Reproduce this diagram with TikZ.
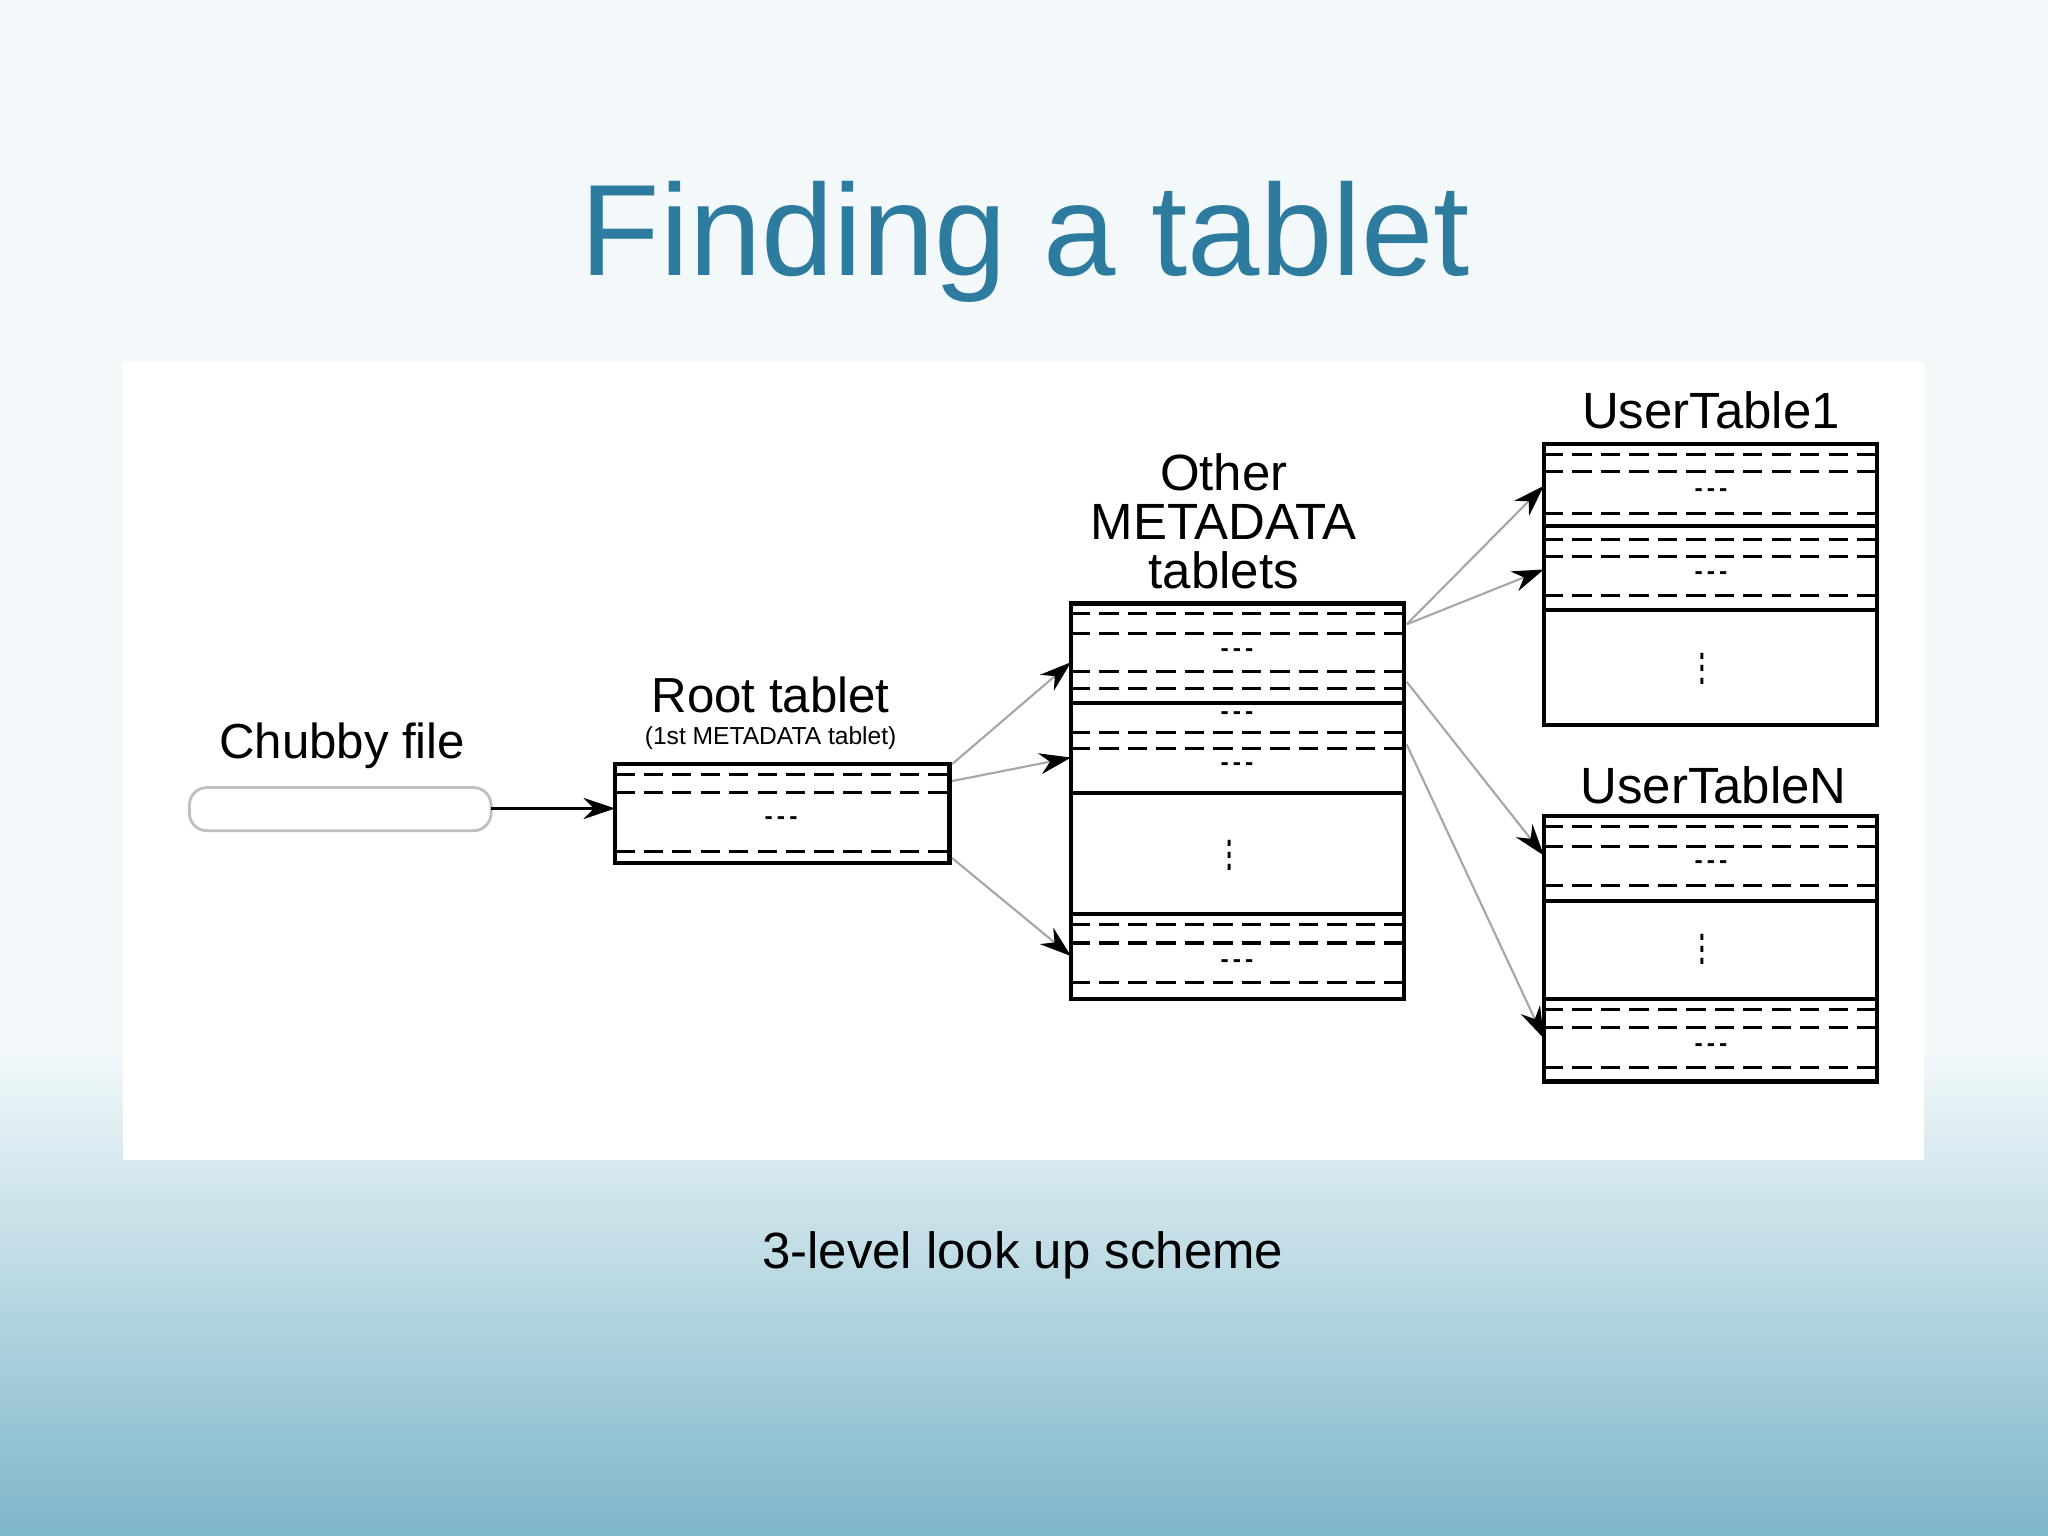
\documentclass[tikz,border=0pt]{standalone}
\usepackage{fontspec}
\setmainfont{Liberation Sans}
\usetikzlibrary{arrows.meta}
\definecolor{titleblue}{HTML}{2E7BA0}
\definecolor{tealc}{HTML}{7DB6C9}
\definecolor{pale}{HTML}{F3F9FB}
\tikzset{
  tbl/.style={draw=black,line width=1.2pt},
  dln/.style={draw=black,dash pattern=on 5.5pt off 2.6pt,line width=0.9pt},
  sln/.style={draw=black,line width=1.1pt},
  lk/.style={draw=gray!70,line width=0.6pt,-{Stealth[length=9pt,width=6pt,black]}},
  lbl/.style={font=\fontsize{14}{15}\selectfont,align=center,inner sep=0pt},
  dts/.style={font=\fontsize{7}{7}\selectfont\bfseries,inner sep=0pt},
}
\newcommand{\myDl}[3]{\draw[dln] (#1,#3) -- (#2,#3);}
\newcommand{\mySl}[3]{\draw[sln] (#1,#3) -- (#2,#3);}
\newcommand{\myHd}[2]{\node[dts] at (#1,#2) {-\,-\,-};}
\newcommand{\myVd}[2]{\node[dts,rotate=90] at (#1,#2) {-\,-\,-};}
\begin{document}
\begin{tikzpicture}[x=0.013061cm,y=-0.013061cm]
\useasboundingbox (0,0) rectangle (1568,1176);
\fill[pale] (0,0) rectangle (1568,800);
\shade[top color=pale,bottom color=tealc] (0,800) rectangle (1568,1176);
\fill[white] (94,277) rectangle (1473,888);
\node[text=titleblue,font=\fontsize{37}{40}\selectfont] (title) at (785,185) {Finding a tablet};
\node[font=\fontsize{14.5}{17}\selectfont] (cap) at (783,961) {3-level look up scheme};
% chubby
\draw[gray!50,line width=0.8pt,rounded corners=5pt] (145,603) rectangle (376,636);
\node[lbl] (chl) at (262,571) {Chubby file};
\coordinate (chub) at (376,619);
% root
\draw[tbl] (471,585) rectangle (727,661);
\coordinate (root) at (471,619);
\myDl{471}{727}{593}\myDl{471}{727}{607}\myHd{598}{628}\myDl{471}{727}{652}
\node[lbl] (rl) at (590,532) {Root tablet};
\node[lbl,font=\fontsize{7}{8}\selectfont] (rl2) at (590,565) {(1st METADATA tablet)};
\draw[black,line width=1pt,-{Stealth[length=9pt,width=6pt]}] (chub) -- (root);
% other metadata
\draw[tbl] (820,462) rectangle (1075,765);
\myDl{820}{1075}{470}\myDl{820}{1075}{485}\myHd{947}{500}\myDl{820}{1075}{514}\myDl{820}{1075}{527}
\mySl{820}{1075}{538}\myHd{947}{548}\myDl{820}{1075}{561}\myDl{820}{1075}{573}\myHd{947}{587}
\mySl{820}{1075}{607}\myVd{943}{655}\mySl{820}{1075}{700}
\myDl{820}{1075}{708}\myDl{820}{1075}{722}\myHd{947}{738}\myDl{820}{1075}{752}
\node[lbl,font=\fontsize{14.5}{14}\selectfont] (ol) at (937,399) {Other\\METADATA\\tablets};
% user table 1
\draw[tbl] (1182,340) rectangle (1437,555);
\myDl{1182}{1437}{348}\myDl{1182}{1437}{361}\myHd{1310}{377}\myDl{1182}{1437}{393}\mySl{1182}{1437}{403}
\myDl{1182}{1437}{413}\myDl{1182}{1437}{426}\myHd{1310}{441}\myDl{1182}{1437}{456}\mySl{1182}{1437}{467}
\myVd{1305}{512}
\node[lbl,font=\fontsize{14.5}{16}\selectfont] (u1) at (1310,314) {UserTable1};
% user table N
\draw[tbl] (1182,625) rectangle (1437,828);
\myDl{1182}{1437}{633}\myDl{1182}{1437}{648}\myHd{1310}{662}\myDl{1182}{1437}{678}\mySl{1182}{1437}{690}
\myVd{1305}{727}\mySl{1182}{1437}{765}
\myDl{1182}{1437}{773}\myDl{1182}{1437}{787}\myHd{1310}{802}\myDl{1182}{1437}{817}
\node[lbl,font=\fontsize{14.5}{16}\selectfont] (un) at (1312,601) {UserTableN};
% links
\coordinate (r1) at (729,585); \coordinate (r2) at (729,598); \coordinate (r3) at (729,657);
\coordinate (m1) at (820,507); \coordinate (m2) at (820,580); \coordinate (m3) at (820,732);
\draw[lk] (r1) -- (m1); \draw[lk] (r2) -- (m2); \draw[lk] (r3) -- (m3);
\coordinate (o1) at (1077,478); \coordinate (o2) at (1077,522); \coordinate (o3) at (1077,570);
\coordinate (t1) at (1182,372); \coordinate (t2) at (1182,436); \coordinate (t3) at (1182,655); \coordinate (t4) at (1182,795);
\draw[lk] (o1) -- (t1); \draw[lk] (o1) -- (t2); \draw[lk] (o2) -- (t3); \draw[lk] (o3) -- (t4);
\end{tikzpicture}
\end{document}
